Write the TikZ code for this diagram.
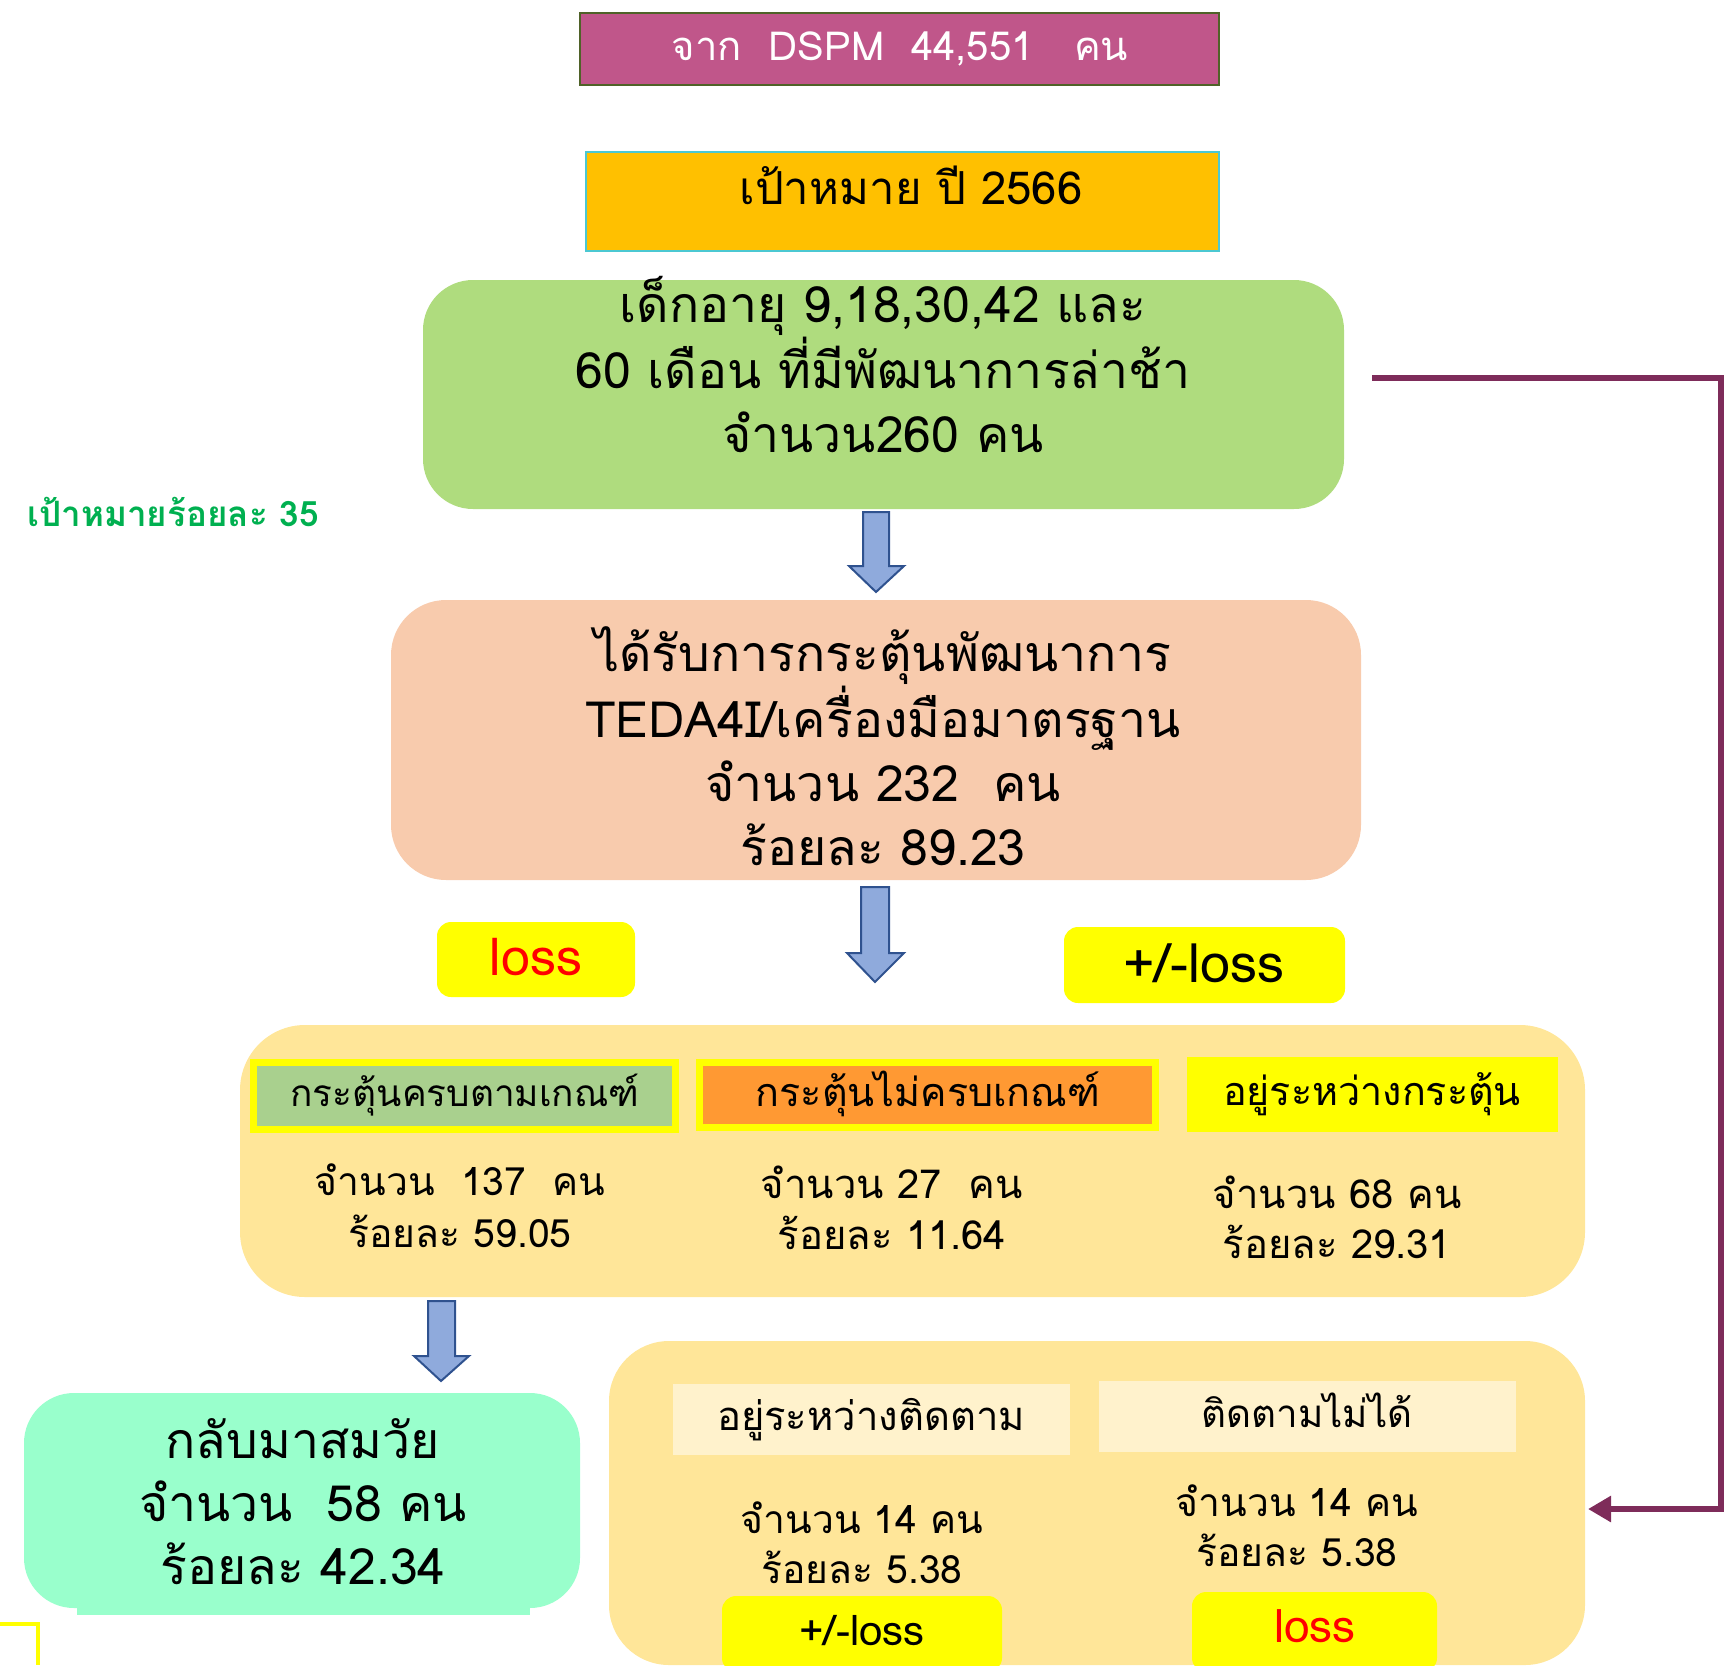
\documentclass[tikz,border=0pt]{standalone}
\usepackage{fontspec}
\setmainfont[Script=Thai]{Loma}
\usetikzlibrary{arrows.meta}
\definecolor{magentabox}{RGB}{192,86,138}
\definecolor{magentaline}{RGB}{79,98,40}
\definecolor{goldbox}{RGB}{255,192,0}
\definecolor{goldline}{RGB}{75,200,210}
\definecolor{greenbox}{RGB}{175,220,126}
\definecolor{peachbox}{RGB}{248,203,173}
\definecolor{arrowfill}{RGB}{143,170,220}
\definecolor{arrowline}{RGB}{47,82,143}
\definecolor{lightorange}{RGB}{255,230,153}
\definecolor{labgreen}{RGB}{169,208,142}
\definecolor{laborange}{RGB}{255,153,51}
\definecolor{mintbox}{RGB}{153,255,204}
\definecolor{cream}{RGB}{255,242,204}
\definecolor{purpleline}{RGB}{126,44,90}
\definecolor{goalgreen}{RGB}{0,176,80}
\definecolor{tagyellow}{RGB}{255,255,0}
\tikzset{
  box/.style={inner sep=0pt, outer sep=0pt},
  txt/.style={inner sep=0pt, align=center, anchor=base},
  blockarrow/.style={fill=arrowfill, draw=arrowline, line width=2pt, line join=miter},
  yellowtag/.style={box, fill=tagyellow, rounded corners=14pt},
}
\newcommand{\fs}[2]{\fontsize{#1}{#2}\selectfont}
\begin{document}
\begin{tikzpicture}[x=1pt,y=-1pt]
\useasboundingbox (0,0) rectangle (1726,1665);
% top boxes
\node[box, fill=magentabox, draw=magentaline, line width=2pt, minimum width=639pt, minimum height=72pt] (dspm) at (899.5,49) {};
\node[txt, text=white, font=\fs{40}{48}] (dspmtxt) at (900,60) {จาก\ \ DSPM\ \ 44,551\ \ \ คน};
\node[box, fill=goldbox, draw=goldline, line width=2pt, minimum width=633pt, minimum height=99pt] (goal) at (902.5,201.5) {};
\node[txt, font=\fs{45.5}{52}] (goaltxt) at (911,204) {เป้าหมาย ปี 2566};
% green box
\node[box, fill=greenbox, rounded corners=50pt, minimum width=921pt, minimum height=229pt] (target) at (883.5,394.5) {};
\node[txt, font=\fs{50}{64}] (targettxt) at (883,452) {เด็กอายุ 9,18,30,42 และ\\60 เดือน ที่มีพัฒนาการล่าช้า\\จำนวน260 คน};
\node[txt, text=goalgreen, font=\bfseries\fs{35}{40}] (goal35) at (173,526) {เป้าหมายร้อยละ 35};
% arrow 1
\draw[blockarrow] (863,512) -- (889,512) -- (889,566) -- (904,566) -- (876,592) -- (849,566) -- (863,566) -- cycle;
% peach box
\node[box, fill=peachbox, rounded corners=55pt, minimum width=970pt, minimum height=280pt] (stim) at (876,740) {};
\node[txt, font=\fs{50}{64}] (stimtxt) at (883,865) {ได้รับการกระตุ้นพัฒนาการ\\TEDA4I/เครื่องมือมาตรฐาน\\จำนวน 232\ \ คน\\ร้อยละ 89.23};
% arrow 2
\draw[blockarrow] (861,887) -- (889,887) -- (889,953) -- (904,953) -- (875,982) -- (847,953) -- (861,953) -- cycle;
% loss tags
\node[yellowtag, minimum width=198pt, minimum height=75pt] (loss1) at (536,959.5) {};
\node[txt, text=red, font=\fs{52}{58}] (loss1txt) at (536,975) {loss};
\node[yellowtag, minimum width=281pt, minimum height=76pt] (pm1) at (1204.5,965) {};
\node[txt, font=\fs{54}{60}] (pm1txt) at (1204,982) {+/-loss};
% big box
\node[box, fill=lightorange, rounded corners=65pt, minimum width=1345pt, minimum height=272pt] (result) at (912.5,1161) {};
\node[box, fill=labgreen, draw=tagyellow, line width=7pt, minimum width=422pt, minimum height=67pt] (lab1) at (464.5,1096) {};
\node[txt, font=\fs{37}{44}] (lab1txt) at (465,1106) {กระตุ้นครบตามเกณฑ์};
\node[box, fill=laborange, draw=tagyellow, line width=7pt, minimum width=456pt, minimum height=65pt] (lab2) at (927.5,1095) {};
\node[txt, font=\fs{39.5}{44}] (lab2txt) at (928,1106) {กระตุ้นไม่ครบเกณฑ์};
\node[box, fill=tagyellow, minimum width=371pt, minimum height=75pt] (lab3) at (1372.5,1094.5) {};
\node[txt, font=\fs{39.5}{44}] (lab3txt) at (1372,1105) {อยู่ระหว่างกระตุ้น};
\node[txt, font=\fs{39}{52}] (c1) at (460,1247) {จำนวน\ \ 137\ \ คน\\ร้อยละ 59.05};
\node[txt, font=\fs{40}{51}] (c2) at (892,1249) {จำนวน 27\ \ คน\\ร้อยละ 11.64};
\node[txt, font=\fs{40}{50}] (c3) at (1337,1258) {จำนวน 68 คน\\ร้อยละ 29.31};
% arrow 3
\draw[blockarrow] (428,1301) -- (455,1301) -- (455,1356) -- (469,1356) -- (441,1381) -- (414,1356) -- (428,1356) -- cycle;
% mint box
\node[box, fill=mintbox, minimum width=453pt, minimum height=15pt] (mintstrip) at (303.5,1607.5) {};
\node[box, fill=mintbox, rounded corners=50pt, minimum width=556pt, minimum height=215pt] (back) at (302,1500.5) {};
\node[txt, font=\fs{50}{63}] (backtxt) at (303,1584) {กลับมาสมวัย\\จำนวน\ \ 58 คน\\ร้อยละ 42.34};
\draw[tagyellow, line width=4pt] (0,1624) -- (38,1624) -- (38,1665);
% bottom box
\node[box, fill=lightorange, rounded corners=60pt, minimum width=976pt, minimum height=324pt] (follow) at (1097,1503) {};
\node[box, fill=cream, minimum width=397pt, minimum height=71pt] (lab4) at (871.5,1419.5) {};
\node[txt, font=\fs{40}{44}] (lab4txt) at (871,1430) {อยู่ระหว่างติดตาม};
\node[box, fill=cream, minimum width=417pt, minimum height=71pt] (lab5) at (1307.5,1416.5) {};
\node[txt, font=\fs{38.5}{44}] (lab5txt) at (1307,1427) {ติดตามไม่ได้};
\node[txt, font=\fs{39}{50}] (c4) at (862,1583) {จำนวน 14 คน\\ร้อยละ 5.38};
\node[txt, font=\fs{39}{50}] (c5) at (1297,1566) {จำนวน 14 คน\\ร้อยละ 5.38};
\node[yellowtag, minimum width=280pt, minimum height=76pt] (pm2) at (862,1634) {};
\node[txt, font=\fs{42}{48}] (pm2txt) at (862,1645) {+/-loss};
\node[yellowtag, minimum width=245pt, minimum height=80pt] (loss2) at (1314.5,1632) {};
\node[txt, text=red, font=\fs{46}{52}] (loss2txt) at (1315,1642) {loss};
% purple connector
\coordinate (pstart) at (1372,378);
\draw[purpleline, line width=6pt, -{Triangle[length=23pt,width=25pt]}] (pstart) -- (1721,378) |- ([xshift=3pt,yshift=-6pt]follow.east);
\end{tikzpicture}
\end{document}
